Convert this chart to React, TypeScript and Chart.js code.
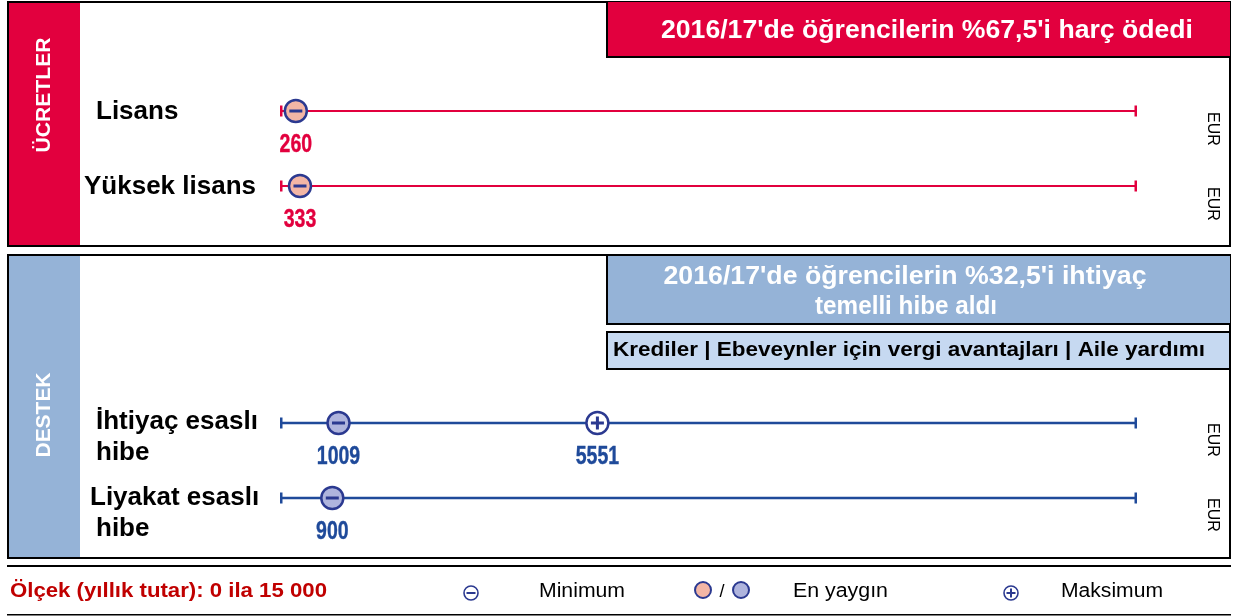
import React, { useEffect, useRef } from "react";
import { Chart, registerables } from "chart.js";

Chart.register(...registerables);

// ---------------- DATA ----------------
const categories = ["Lisans", "Yüksek lisans", "İhtiyaç esaslı hibe", "Liyakat esaslı hibe"];
const categoryLines = [["Lisans"], ["Yüksek lisans"], ["İhtiyaç esaslı", "hibe"], ["Liyakat esaslı", "hibe"]];
const rowSection = [0, 0, 1, 1];
const sectionTitles = ["ÜCRETLER", "DESTEK"];
const minimumValues = [260, 333, 1009, 900];
const maximumValues: (number | null)[] = [null, null, 5551, null];
const scaleMin = 0;
const scaleMax = 15000;
const unitLabel = "EUR";
const feesHeadline = ["2016/17'de öğrencilerin %67,5'i harç ödedi"];
const supportHeadline = ["2016/17'de öğrencilerin %32,5'i ihtiyaç", "temelli hibe aldı"];
const supportOther = "Krediler | Ebeveynler için vergi avantajları | Aile yardımı";
const scaleNote = "Ölçek (yıllık tutar): 0 ila 15 000";
const legendLabels = ["Minimum", "En yaygın", "Maksimum"];

// ---------------- LAYOUT / STYLE ----------------
const W = 1235;
const H = 616;
const AXIS_LEFT = 281;
const AXIS_RIGHT = 1136;
const ROW_Y = [111, 186, 423, 498];
const LABEL_X = [[96], [84], [96, 96], [90, 96]];
const LABEL_DY = [[1], [1], [-1, 30], [0, 31]];

const RED = "#E2003E";
const DARK_RED = "#C00000";
const BLUE_LINE = "#1F4A9A";
const MARK_BORDER = "#2B3990";
const SIDE_BLUE = "#95B3D7";
const LIGHT_BLUE = "#C6D9F1";
const FILL_RED = "#F3B6A5";
const FILL_BLUE = "#AFB4DD";
const SANS = "'Liberation Sans', Arial, sans-serif";

type TextOpts = {
  size: number;
  weight?: string;
  family?: string;
  color: string;
  align?: CanvasTextAlign;
  width?: number;
  sx?: number;
  rotate?: number;
  heavy?: number;
};

function drawText(ctx: CanvasRenderingContext2D, text: string, x: number, y: number, o: TextOpts): number {
  ctx.save();
  ctx.font = `${o.weight || "normal"} ${o.size}px ${o.family || SANS}`;
  ctx.fillStyle = o.color;
  ctx.textBaseline = "middle";
  ctx.textAlign = o.align || "left";
  const m = ctx.measureText(text).width;
  const sx = o.width ? o.width / m : o.sx || 1;
  ctx.translate(x, y);
  if (o.rotate) ctx.rotate(o.rotate);
  ctx.scale(sx, 1);
  ctx.fillText(text, 0, 0);
  if (o.heavy) {
    ctx.strokeStyle = o.color;
    ctx.lineWidth = o.heavy;
    ctx.lineJoin = "round";
    ctx.strokeText(text, 0, 0);
  }
  ctx.restore();
  return sx;
}

function drawGlyph(ctx: CanvasRenderingContext2D, x: number, y: number, half: number, plus: boolean, lw: number) {
  ctx.save();
  ctx.strokeStyle = MARK_BORDER;
  ctx.lineWidth = lw;
  ctx.lineCap = "butt";
  ctx.beginPath();
  ctx.moveTo(x - half, y);
  ctx.lineTo(x + half, y);
  if (plus) {
    ctx.moveTo(x, y - half);
    ctx.lineTo(x, y + half);
  }
  ctx.stroke();
  ctx.restore();
}

function circle(ctx: CanvasRenderingContext2D, x: number, y: number, r: number, fill: string, lw: number) {
  ctx.save();
  ctx.beginPath();
  ctx.arc(x, y, r, 0, Math.PI * 2);
  ctx.fillStyle = fill;
  ctx.fill();
  ctx.strokeStyle = MARK_BORDER;
  ctx.lineWidth = lw;
  ctx.stroke();
  ctx.restore();
}

const decorPlugin = {
  id: "decor",
  beforeDatasetsDraw(chart: any) {
    const ctx: CanvasRenderingContext2D = chart.ctx;
    ctx.save();
    ctx.fillStyle = "#ffffff";
    ctx.fillRect(0, 0, W, H);

    // Panels
    ctx.strokeStyle = "#000";
    ctx.lineWidth = 2;
    ctx.strokeRect(8, 2, 1222, 244);
    ctx.strokeRect(8, 255, 1222, 303);
    ctx.fillStyle = RED;
    ctx.fillRect(9, 3, 71, 242);
    ctx.fillStyle = SIDE_BLUE;
    ctx.fillRect(9, 256, 71, 301);

    // Fees header
    ctx.fillStyle = "#000";
    ctx.fillRect(606, 2, 624, 56);
    ctx.fillStyle = RED;
    ctx.fillRect(608, 2, 622, 54);
    // Support header
    ctx.fillStyle = "#000";
    ctx.fillRect(606, 255, 624, 70);
    ctx.fillStyle = SIDE_BLUE;
    ctx.fillRect(608, 256, 622, 67);
    ctx.fillStyle = "#000";
    ctx.fillRect(606, 331, 625, 39);
    ctx.fillStyle = LIGHT_BLUE;
    ctx.fillRect(608, 333, 621, 35);

    // Footer lines
    ctx.fillStyle = "#000";
    ctx.fillRect(7, 565, 1224, 2);
    ctx.fillRect(7, 614, 1224, 1.5);
    ctx.restore();

    // Section titles (vertical)
    drawText(ctx, sectionTitles[0], 44, 95, { size: 20, weight: "bold", color: "#fff", align: "center", width: 115, rotate: -Math.PI / 2 });
    drawText(ctx, sectionTitles[1], 44, 415, { size: 20, weight: "bold", color: "#fff", align: "center", width: 85, rotate: -Math.PI / 2 });

    // Headlines
    drawText(ctx, feesHeadline[0], 927, 31, { size: 25, weight: "bold", color: "#fff", align: "center", width: 532 });
    drawText(ctx, supportHeadline[0], 905, 277, { size: 25, weight: "bold", color: "#fff", align: "center", width: 483 });
    drawText(ctx, supportHeadline[1], 906, 307, { size: 25, weight: "bold", color: "#fff", align: "center", sx: 0.97 });
    drawText(ctx, supportOther, 613, 350, { size: 21, weight: "bold", color: "#000", align: "left", width: 592 });

    // Category labels
    categoryLines.forEach((lines, i) => {
      lines.forEach((t, j) => {
        drawText(ctx, t, LABEL_X[i][j], ROW_Y[i] + LABEL_DY[i][j], { size: 26, weight: "bold", color: "#000" });
      });
    });

    // Unit labels
    const unitOffset = [18, 18, 17, 17];
    ROW_Y.forEach((y, i) => {
      drawText(ctx, unitLabel, 1212, y + unitOffset[i], { size: 16, color: "#000", align: "center", rotate: Math.PI / 2 });
    });

    // End ticks
    const xs = chart.scales.x;
    ROW_Y.forEach((y, i) => {
      const col = rowSection[i] === 0 ? RED : BLUE_LINE;
      ctx.save();
      ctx.fillStyle = col;
      const x0 = xs.getPixelForValue(scaleMin);
      const x1 = xs.getPixelForValue(scaleMax);
      ctx.fillRect(x0 - 1, y - 5.5, 2.5, 11);
      ctx.fillRect(x1 - 1.5, y - 5.5, 2.5, 11);
      ctx.restore();
    });

    // Footer
    drawText(ctx, scaleNote, 10, 591, { size: 20, weight: "bold", color: DARK_RED, width: 317 });
    circle(ctx, 471, 593, 7, "#fff", 1.6);
    drawGlyph(ctx, 471, 593, 4.5, false, 2);
    drawText(ctx, legendLabels[0], 539, 591, { size: 20, color: "#000", width: 86 });
    circle(ctx, 703, 590, 8, FILL_RED, 2);
    drawText(ctx, "/", 722, 592, { size: 18, color: "#000", align: "center" });
    circle(ctx, 741, 590, 8, FILL_BLUE, 2);
    drawText(ctx, legendLabels[1], 793, 591, { size: 20, color: "#000", width: 95 });
    circle(ctx, 1011, 593, 7, "#fff", 1.6);
    drawGlyph(ctx, 1011, 593, 4.5, true, 2);
    drawText(ctx, legendLabels[2], 1061, 591, { size: 20, color: "#000", width: 102 });
  },
  afterDatasetsDraw(chart: any) {
    const ctx: CanvasRenderingContext2D = chart.ctx;
    chart.data.datasets.forEach((ds: any, di: number) => {
      if (!ds.glyph) return;
      const meta = chart.getDatasetMeta(di);
      meta.data.forEach((pt: any, k: number) => {
        const raw = ds.data[k];
        if (!raw) return;
        drawGlyph(ctx, pt.x, pt.y, 6.5, ds.glyph === "plus", 3);
        drawText(ctx, String(raw.v), pt.x, pt.y + 34, {
          size: 25,
          weight: "bold",
          color: ds.labelColor,
          align: "center",
          sx: 0.78,
          heavy: 0.4,
        });
      });
    });
  },
};

export default function App() {
  const ref = useRef<HTMLCanvasElement | null>(null);

  useEffect(() => {
    if (!ref.current) return;
    const datasets: any[] = [];

    // Minimum / most common markers
    minimumValues.forEach((v, i) => {
      const top = rowSection[i] === 0;
      datasets.push({
        type: "scatter",
        label: categories[i] + " min",
        data: [{ x: v, y: ROW_Y[i], v }],
        pointRadius: 11,
        pointHoverRadius: 11,
        pointBackgroundColor: top ? FILL_RED : FILL_BLUE,
        pointBorderColor: MARK_BORDER,
        pointBorderWidth: 2.5,
        glyph: "minus",
        labelColor: top ? RED : BLUE_LINE,
        order: 0,
        clip: false,
      });
    });
    // Maximum markers
    maximumValues.forEach((v, i) => {
      if (v == null) return;
      datasets.push({
        type: "scatter",
        label: categories[i] + " max",
        data: [{ x: v, y: ROW_Y[i], v }],
        pointRadius: 11,
        pointHoverRadius: 11,
        pointBackgroundColor: "#ffffff",
        pointBorderColor: MARK_BORDER,
        pointBorderWidth: 2.5,
        glyph: "plus",
        labelColor: BLUE_LINE,
        order: 0,
        clip: false,
      });
    });
    // Scale lines
    categories.forEach((c, i) => {
      const top = rowSection[i] === 0;
      datasets.push({
        type: "line",
        label: c + " scale",
        data: [
          { x: scaleMin, y: ROW_Y[i] },
          { x: scaleMax, y: ROW_Y[i] },
        ],
        borderColor: top ? RED : BLUE_LINE,
        borderWidth: top ? 2 : 2.5,
        pointRadius: 0,
        order: 1,
        clip: false,
      });
    });

    const chart = new Chart(ref.current, {
      type: "scatter",
      data: { datasets },
      options: {
        animation: false,
        responsive: false,
        devicePixelRatio: 1,
        layout: { autoPadding: false, padding: { left: AXIS_LEFT, right: W - AXIS_RIGHT, top: 0, bottom: 0 } },
        scales: {
          x: { type: "linear", min: scaleMin, max: scaleMax, display: false },
          y: { type: "linear", min: 0, max: H, reverse: true, display: false },
        },
        plugins: { legend: { display: false }, tooltip: { enabled: false } },
        events: [],
      } as any,
      plugins: [decorPlugin as any],
    });
    return () => chart.destroy();
  }, []);

  return (
    <div style={{ position: "absolute", left: 0, top: 0, width: W, height: H, background: "#fff" }}>
      <canvas ref={ref} width={W} height={H} style={{ display: "block", width: W, height: H }} />
    </div>
  );
}
